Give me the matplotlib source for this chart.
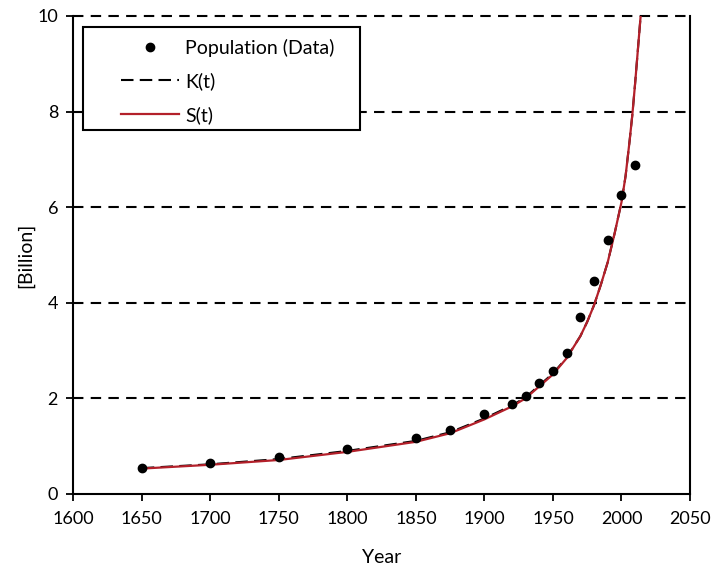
import matplotlib
matplotlib.use("Agg")
import matplotlib.pyplot as plt
from matplotlib.patches import Rectangle
from matplotlib.lines import Line2D

plt.rcParams['font.family'] = ['Lato', 'DejaVu Sans']

# observed population (billion)
years = [1650, 1700, 1750, 1800, 1850, 1875, 1900, 1920, 1930, 1940,
         1950, 1960, 1970, 1980, 1990, 2000, 2010]
pop = [0.54, 0.64, 0.77, 0.94, 1.16, 1.34, 1.67, 1.88, 2.04, 2.32,
       2.57, 2.94, 3.71, 4.46, 5.31, 6.26, 6.88]

# model curves
curve_years = [1650, 1700, 1750, 1800, 1850, 1875, 1900, 1920, 1930, 1940,
               1950, 1960, 1970, 1975, 1980, 1985, 1990, 1995, 2000, 2003,
               2006, 2008, 2010, 2012, 2014]
k_vals = [0.54, 0.62, 0.73, 0.90, 1.11, 1.29, 1.58, 1.85, 2.02, 2.27,
          2.52, 2.85, 3.30, 3.60, 3.95, 4.38, 4.85, 5.45, 6.10, 6.65,
          7.40, 7.95, 8.60, 9.30, 10.00]
s_vals = [0.53, 0.61, 0.71, 0.88, 1.09, 1.27, 1.56, 1.83, 2.00, 2.25,
          2.50, 2.84, 3.30, 3.60, 3.95, 4.38, 4.85, 5.45, 6.10, 6.65,
          7.40, 7.95, 8.60, 9.30, 10.00]

fig = plt.figure(figsize=(7.15, 5.71), dpi=100)
ax = fig.add_axes([0.1025, 0.135, 0.8625, 0.837])

red = '#B3202A'

for yv in [2, 4, 6, 8, 10]:
    ax.axhline(yv, color='black', lw=1.5, ls=(0, (5, 3.5)), zorder=1, clip_on=False)

ax.plot(curve_years, k_vals, color='black', lw=1.5, ls=(0, (6, 3)), zorder=2)
ax.plot(curve_years, s_vals, color=red, lw=1.6, zorder=3)
ax.plot(years, pop, 'o', color='black', ms=6, zorder=4)

ax.set_xlim(1600, 2050)
ax.set_ylim(0, 10)
ax.set_xticks(range(1600, 2051, 50))
ax.set_yticks(range(0, 11, 2))
ax.tick_params(direction='out', length=5, width=1.3, labelsize=13, colors='black')
ax.tick_params(axis='x', pad=7)
ax.tick_params(axis='y', pad=6)
ax.spines['top'].set_visible(False)
for s in ['left', 'right', 'bottom']:
    ax.spines[s].set_linewidth(1.5)

ax.set_xlabel('Year', fontsize=14, labelpad=16)
ax.set_ylabel('[Billion]', fontsize=14, labelpad=2)

# legend box
ax.add_patch(Rectangle((0.0157, 0.762), 0.449, 0.215, transform=ax.transAxes,
                       facecolor='white', edgecolor='black', lw=1.5, zorder=5))
handles = [Line2D([], [], color='black', marker='o', ls='none', ms=6),
           Line2D([], [], color='black', lw=1.5, ls=(0, (6, 3))),
           Line2D([], [], color=red, lw=1.6)]
labels = ['Population (Data)', 'K(t)', 'S(t)']
leg = ax.legend(handles, labels, loc='upper left', bbox_to_anchor=(0.052, 0.985),
                frameon=False, fontsize=14, handlelength=3.0, handletextpad=0.3,
                labelspacing=0.8, borderpad=0.3)
leg.set_zorder(6)

fig.savefig('out.png', dpi=100)
